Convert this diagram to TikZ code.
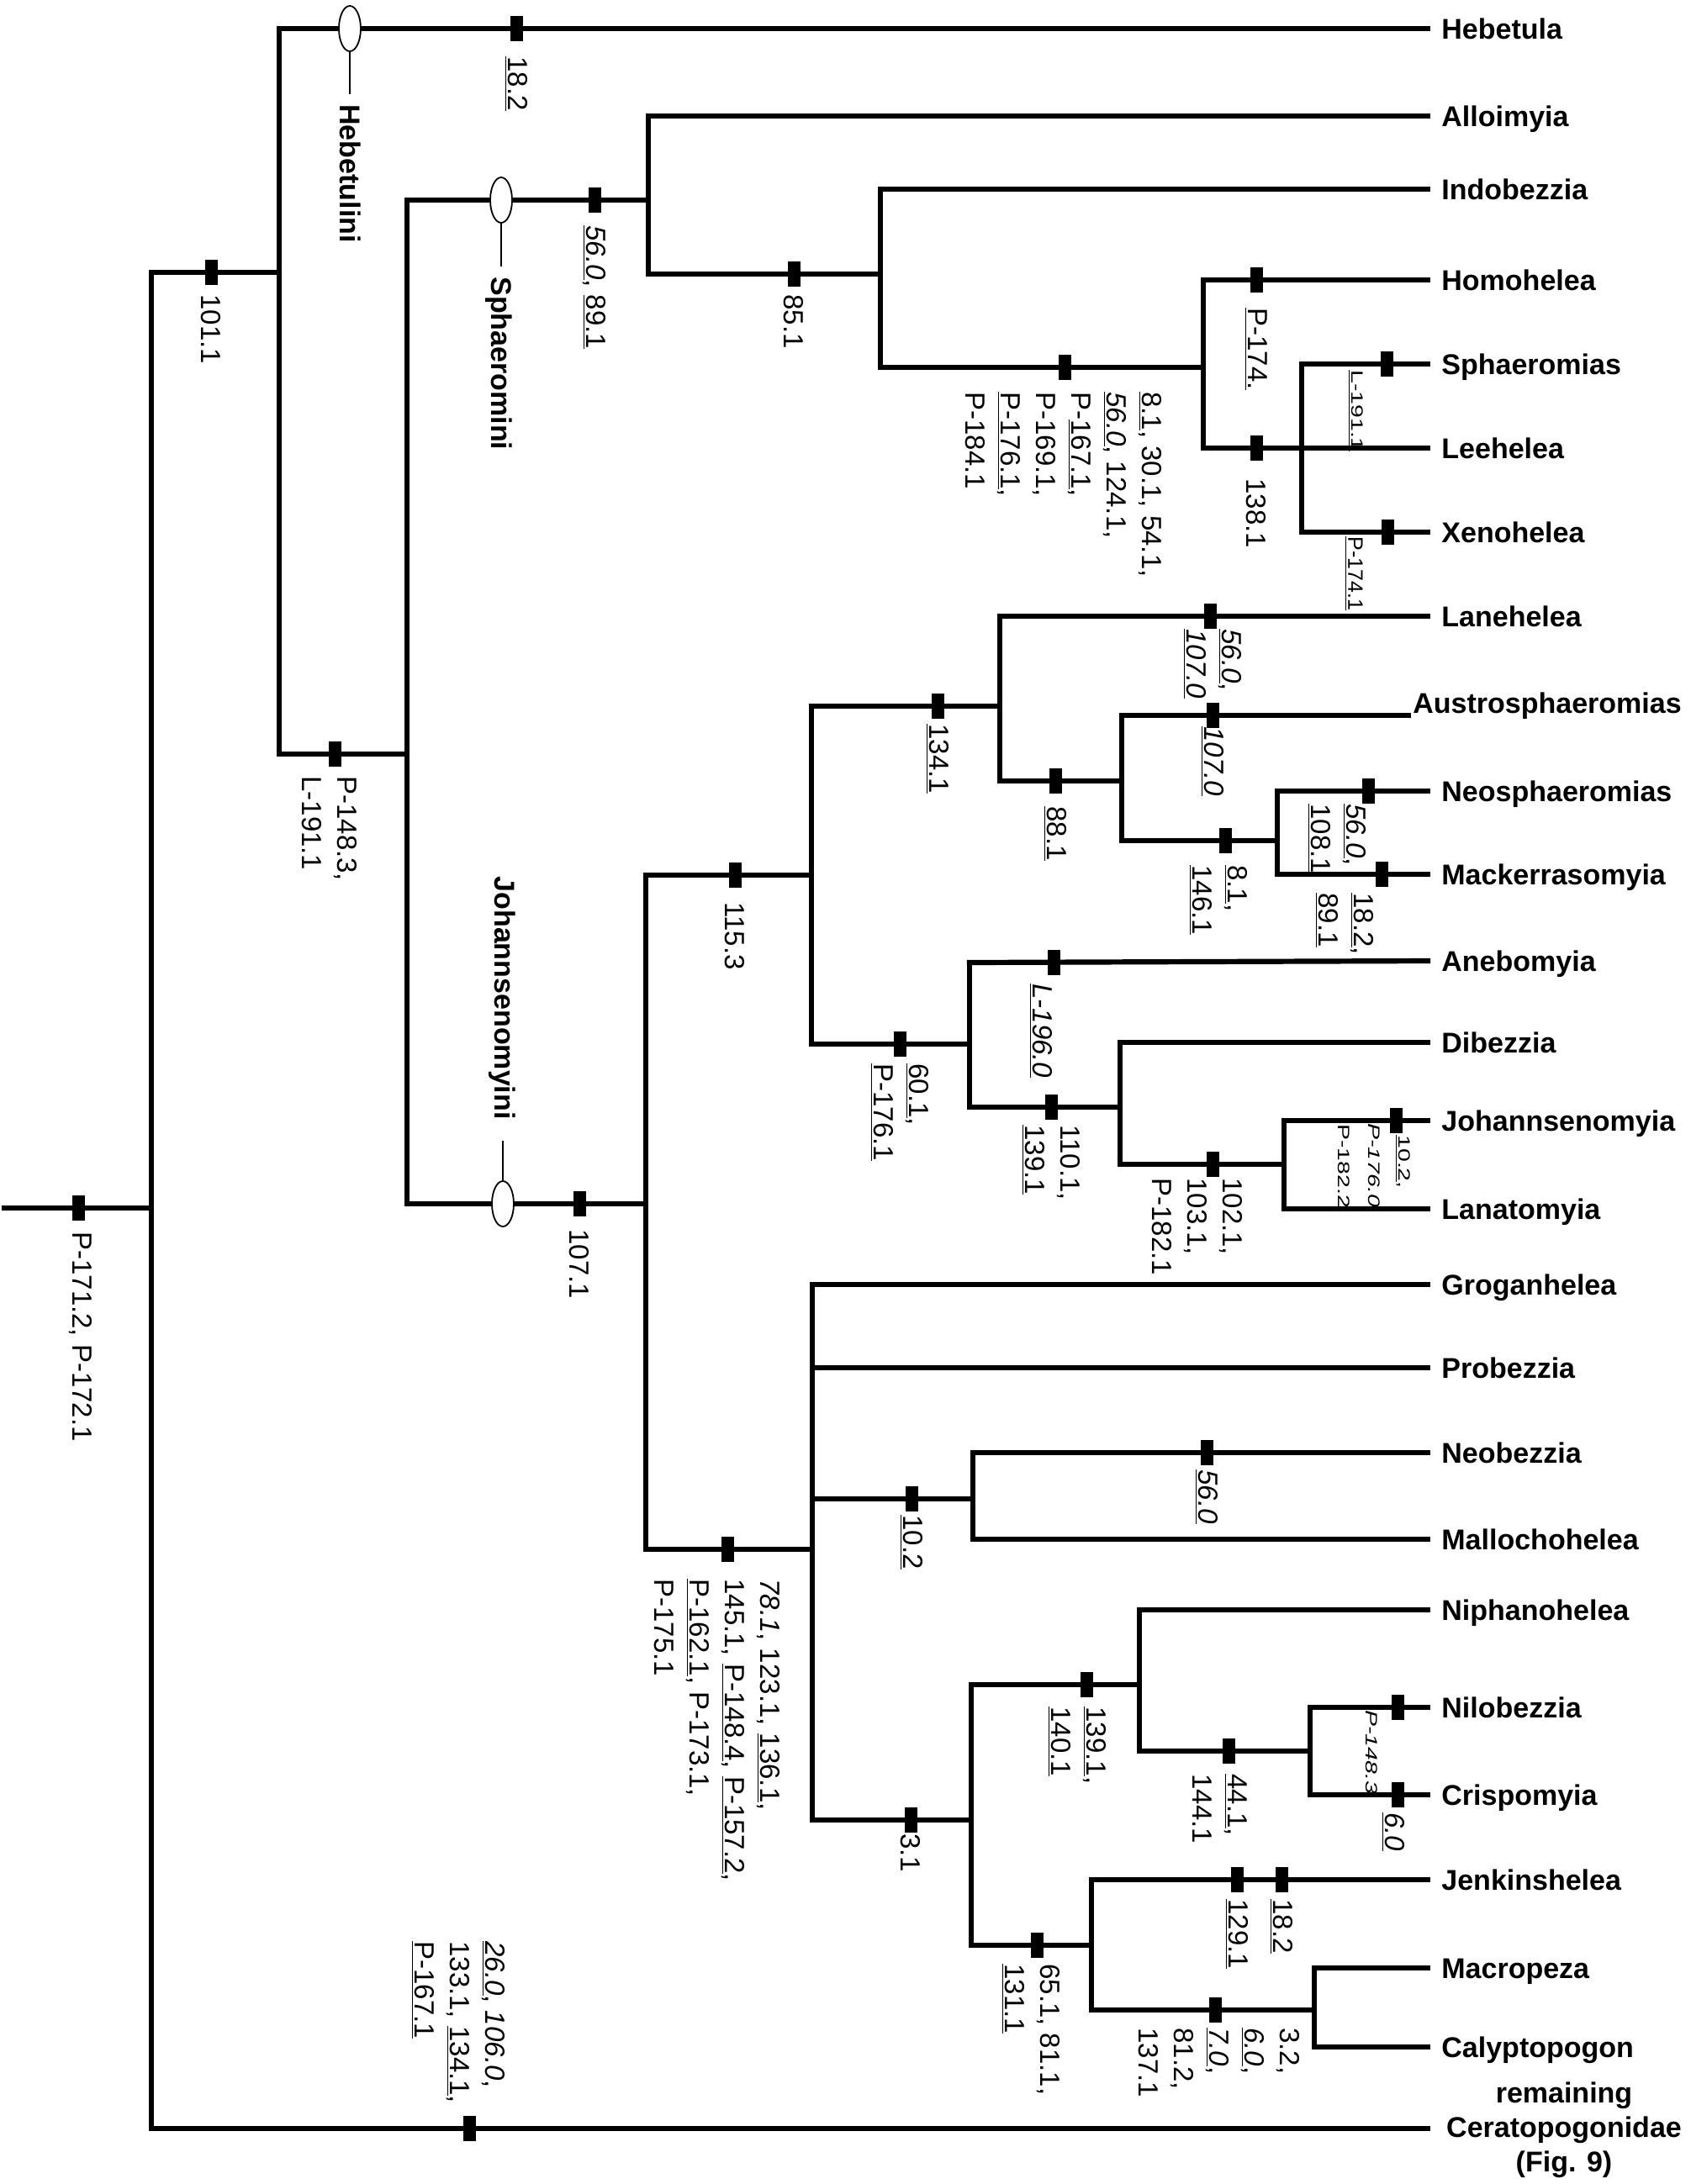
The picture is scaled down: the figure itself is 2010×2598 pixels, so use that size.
\documentclass[tikz,border=0pt]{standalone}
\usepackage{fontspec}
\setmainfont{Liberation Sans}
\usetikzlibrary{shapes.geometric}
\newcommand\uu[1]{\underline{#1}}
\newcommand\stt[1]{\scalebox{1.45}[1]{#1}}
\begin{document}
\begin{tikzpicture}[x=0.5pt,y=-0.5pt,
  br/.style={line width=3.1pt,line cap=rect},
  thin/.style={line width=0.9pt},
  tick/.style={fill=black,minimum width=7.5pt,minimum height=15pt,inner sep=0pt,outer sep=0pt},
  ell/.style={draw,ellipse,fill=white,line width=0.9pt,minimum width=13pt,minimum height=27pt,inner sep=0pt},
  taxon/.style={anchor=west,inner xsep=8pt,inner ysep=0pt,font=\bfseries\fontsize{17}{20}\selectfont,text height=12pt,text depth=0pt},
  clade/.style={rotate=-90,inner sep=0pt,font=\bfseries\fontsize{17}{20}\selectfont,text height=12pt,text depth=0pt},
  lab/.style={rotate=-90,anchor=west,inner sep=0pt,align=left,font=\fontsize{16.5}{21}\selectfont},
  slab/.style={lab,font=\fontsize{9.8}{12}\selectfont}]
\useasboundingbox (0,0) rectangle (2010,2598);
% ---------- coordinates ----------
\coordinate (root) at (5,1437);
\coordinate (v0m) at (180,1437); \coordinate (v0t) at (180,324); \coordinate (v0b) at (180,2532);
\coordinate (v1t) at (332,34); \coordinate (v1m) at (332,324); \coordinate (v1b) at (332,897);
\coordinate (v2t) at (484,238); \coordinate (v2m) at (484,897); \coordinate (v2b) at (484,1432);
\coordinate (v3t) at (771,138); \coordinate (v3m) at (771,238); \coordinate (v3b) at (771,326);
\coordinate (v4t) at (1047,225); \coordinate (v4m) at (1047,326); \coordinate (v4b) at (1047,437);
\coordinate (v5t) at (1431,333); \coordinate (v5m) at (1431,437); \coordinate (v5b) at (1431,533);
\coordinate (v6t) at (1548,433); \coordinate (v6m) at (1548,533); \coordinate (v6b) at (1548,633);
\coordinate (vJt) at (768,1041); \coordinate (vJm) at (768,1432); \coordinate (vJb) at (768,1843);
\coordinate (vKt) at (965,840); \coordinate (vKm) at (965,1041); \coordinate (vKb) at (965,1242);
\coordinate (vLt) at (1189,733); \coordinate (vLm) at (1189,840); \coordinate (vLb) at (1189,929);
\coordinate (vMt) at (1334,851); \coordinate (vMm) at (1334,929); \coordinate (vMb) at (1334,1000);
\coordinate (austroend) at (1675,851);
\coordinate (vNt) at (1519,941); \coordinate (vNm) at (1519,1000); \coordinate (vNb) at (1519,1040);
\coordinate (vOt) at (1153,1145); \coordinate (vOm) at (1153,1242); \coordinate (vOb) at (1153,1317);
\coordinate (vPt) at (1332,1240); \coordinate (vPm) at (1332,1317); \coordinate (vPb) at (1332,1385);
\coordinate (vQt) at (1527,1333); \coordinate (vQm) at (1527,1385); \coordinate (vQb) at (1527,1438);
\coordinate (vRt) at (966,1528); \coordinate (vRp) at (966,1627); \coordinate (vRn) at (966,1783);
\coordinate (vRm) at (966,1843); \coordinate (vRb) at (966,2165);
\coordinate (vSt) at (1157,1728); \coordinate (vSm) at (1157,1783); \coordinate (vSb) at (1157,1831);
\coordinate (vTt) at (1155,2004); \coordinate (vTm) at (1155,2165); \coordinate (vTb) at (1155,2314);
\coordinate (vUt) at (1355,1915); \coordinate (vUm) at (1355,2004); \coordinate (vUb) at (1355,2083);
\coordinate (vVt) at (1558,2031); \coordinate (vVm) at (1558,2083); \coordinate (vVb) at (1558,2135);
\coordinate (vWt) at (1298,2236); \coordinate (vWm) at (1298,2314); \coordinate (vWb) at (1298,2391);
\coordinate (vXt) at (1563,2341); \coordinate (vXm) at (1563,2391); \coordinate (vXb) at (1563,2435);
\coordinate (remend) at (1698,2532);
% ---------- taxa ----------
\node[taxon] (Hebetula) at (1698,34) {Hebetula};
\node[taxon] (Alloimyia) at (1698,138) {Alloimyia};
\node[taxon] (Indobezzia) at (1698,225) {Indobezzia};
\node[taxon] (Homohelea) at (1698,333) {Homohelea};
\node[taxon] (Sphaeromias) at (1698,433) {Sphaeromias};
\node[taxon] (Leehelea) at (1698,533) {Leehelea};
\node[taxon] (Xenohelea) at (1698,633) {Xenohelea};
\node[taxon] (Lanehelea) at (1698,733) {Lanehelea};
\node[taxon,inner xsep=2pt] (Austro) at (1676,836) {Austrosphaeromias};
\node[taxon] (Neosph) at (1698,941) {Neosphaeromias};
\node[taxon] (Macker) at (1698,1040) {Mackerrasomyia};
\node[taxon] (Anebomyia) at (1698,1143) {Anebomyia};
\node[taxon] (Dibezzia) at (1698,1240) {Dibezzia};
\node[taxon] (Johann) at (1698,1333) {Johannsenomyia};
\node[taxon] (Lanato) at (1698,1438) {Lanatomyia};
\node[taxon] (Grogan) at (1698,1528) {Groganhelea};
\node[taxon] (Probezzia) at (1698,1627) {Probezzia};
\node[taxon] (Neobezzia) at (1698,1728) {Neobezzia};
\node[taxon] (Mallocho) at (1698,1831) {Mallochohelea};
\node[taxon] (Niphano) at (1698,1915) {Niphanohelea};
\node[taxon] (Nilobezzia) at (1698,2031) {Nilobezzia};
\node[taxon] (Crispomyia) at (1698,2135) {Crispomyia};
\node[taxon] (Jenkins) at (1698,2236) {Jenkinshelea};
\node[taxon] (Macropeza) at (1698,2341) {Macropeza};
\node[taxon] (Calypto) at (1698,2435) {Calyptopogon};
\node[anchor=center,align=center,inner sep=0pt,font=\bfseries\fontsize{17}{20.5}\selectfont] (Remaining) at (1860,2534) {remaining\\Ceratopogonidae\\(Fig. 9)};
% ---------- branches ----------
\draw[br] (root) -- (v0m);
\draw[br] (v0t) -- (v0b);
\draw[br] (v0b) -- (remend);
\draw[br] (v0t) -- (v1m);
\draw[br] (v1t) -- (v1b);
\draw[br] (v1t) -- (Hebetula.west);
\draw[br] (v1b) -- (v2m);
\draw[br] (v2t) -- (v2b);
\draw[br] (v2t) -- (v3m);
\draw[br] (v3t) -- (v3b);
\draw[br] (v3t) -- (Alloimyia.west);
\draw[br] (v3b) -- (v4m);
\draw[br] (v4t) -- (v4b);
\draw[br] (v4t) -- (Indobezzia.west);
\draw[br] (v4b) -- (v5m);
\draw[br] (v5t) -- (v5b);
\draw[br] (v5t) -- (Homohelea.west);
\draw[br] (v5b) -- (v6m);
\draw[br] (v6t) -- (v6b);
\draw[br] (v6t) -- (Sphaeromias.west);
\draw[br] (v6m) -- (Leehelea.west);
\draw[br] (v6b) -- (Xenohelea.west);
\draw[br] (v2b) -- (vJm);
\draw[br] (vJt) -- (vJb);
\draw[br] (vJt) -- (vKm);
\draw[br] (vKt) -- (vKb);
\draw[br] (vKt) -- (vLm);
\draw[br] (vLt) -- (vLb);
\draw[br] (vLt) -- (Lanehelea.west);
\draw[br] (vLb) -- (vMm);
\draw[br] (vMt) -- (vMb);
\draw[br] (vMt) -- (austroend);
\draw[br] (vMb) -- (vNm);
\draw[br] (vNt) -- (vNb);
\draw[br] (vNt) -- (Neosph.west);
\draw[br] (vNb) -- (Macker.west);
\draw[br] (vKb) -- (vOm);
\draw[br] (vOt) -- (vOb);
\draw[br] (vOt) -- (Anebomyia.west);
\draw[br] (vOb) -- (vPm);
\draw[br] (vPt) -- (vPb);
\draw[br] (vPt) -- (Dibezzia.west);
\draw[br] (vPb) -- (vQm);
\draw[br] (vQt) -- (vQb);
\draw[br] (vQt) -- (Johann.west);
\draw[br] (vQb) -- (Lanato.west);
\draw[br] (vJb) -- (vRm);
\draw[br] (vRt) -- (vRb);
\draw[br] (vRt) -- (Grogan.west);
\draw[br] (vRp) -- (Probezzia.west);
\draw[br] (vRn) -- (vSm);
\draw[br] (vSt) -- (vSb);
\draw[br] (vSt) -- (Neobezzia.west);
\draw[br] (vSb) -- (Mallocho.west);
\draw[br] (vRb) -- (vTm);
\draw[br] (vTt) -- (vTb);
\draw[br] (vTt) -- (vUm);
\draw[br] (vUt) -- (vUb);
\draw[br] (vUt) -- (Niphano.west);
\draw[br] (vUb) -- (vVm);
\draw[br] (vVt) -- (vVb);
\draw[br] (vVt) -- (Nilobezzia.west);
\draw[br] (vVb) -- (Crispomyia.west);
\draw[br] (vTb) -- (vWm);
\draw[br] (vWt) -- (vWb);
\draw[br] (vWt) -- (Jenkins.west);
\draw[br] (vWb) -- (vXm);
\draw[br] (vXt) -- (vXb);
\draw[br] (vXt) -- (Macropeza.west);
\draw[br] (vXb) -- (Calypto.west);
% ---------- clade markers ----------
\node[ell] (e1) at (416,34) {};
\coordinate (e1end) at (416,112);
\draw[thin] (e1.south) -- (e1end);
\node[clade,anchor=west] (Hebetulini) at (416,124) {Hebetulini};
\node[ell] (e2) at (596,238) {};
\coordinate (e2end) at (596,317);
\draw[thin] (e2.south) -- (e2end);
\node[clade,anchor=west] (Sphaeromini) at (596,329) {Sphaeromini};
\node[ell] (e3) at (598,1432) {};
\coordinate (e3end) at (598,1357);
\draw[thin] (e3.north) -- (e3end);
\node[clade,anchor=east] (Johannsenomyini) at (600,1332) {Johannsenomyini};
% ---------- ticks ----------
\node[tick] (t1) at (93,1437) {};
\node[tick] (t2) at (251,324) {};
\node[tick] (t3) at (614,34) {};
\node[tick] (t4) at (707,238) {};
\node[tick] (t5) at (944,326) {};
\node[tick] (t6) at (1266,437) {};
\node[tick] (t7) at (1494,333) {};
\node[tick] (t8) at (1494,533) {};
\node[tick] (t9) at (1649,433) {};
\node[tick] (t10) at (1650,633) {};
\node[tick] (t11) at (398,897) {};
\node[tick] (t12) at (689,1432) {};
\node[tick] (t13) at (874,1041) {};
\node[tick] (t14) at (1115,840) {};
\node[tick] (t15) at (1439,733) {};
\node[tick] (t16) at (1442,851) {};
\node[tick] (t17) at (1255,929) {};
\node[tick] (t18) at (1457,1000) {};
\node[tick] (t19) at (1627,941) {};
\node[tick] (t20) at (1643,1040) {};
\node[tick] (t21) at (1070,1242) {};
\node[tick] (t22) at (1253,1145) {};
\node[tick] (t23) at (1250,1317) {};
\node[tick] (t24) at (1442,1385) {};
\node[tick] (t25) at (1660,1333) {};
\node[tick] (t26) at (865,1843) {};
\node[tick] (t27) at (1084,1783) {};
\node[tick] (t28) at (1435,1728) {};
\node[tick] (t29) at (1083,2165) {};
\node[tick] (t30) at (1292,2004) {};
\node[tick] (t31) at (1461,2083) {};
\node[tick] (t32) at (1662,2031) {};
\node[tick] (t33) at (1662,2135) {};
\node[tick] (t34) at (1233,2314) {};
\node[tick] (t35) at (1471,2236) {};
\node[tick] (t36) at (1524,2236) {};
\node[tick] (t37) at (1445,2391) {};
\node[tick] (t38) at (558,2532) {};
% ---------- character labels ----------
\node[lab] (l1) at (96,1465) {P-171.2, P-172.1};
\node[lab] (l2) at (251,350) {101.1};
\node[lab] (l3) at (614,67) {\uu{18.2}};
\node[lab] (l4) at (707,268) {\uu{\textit{56.0}}, \uu{89.1}};
\node[lab] (l5) at (944,350) {85.1};
\node[lab] (l6) at (1265,466) {\uu{8.1}, 30.1, 54.1,\\ \uu{\textit{56.0}}, 124.1,\\ P-\uu{167.1},\\ P-169.1,\\ \uu{P-176.1},\\ P-184.1};
\node[lab] (l7) at (1494,366) {\uu{P-174.}};
\node[lab] (l8) at (1494,569) {138.1};
\node[slab] (l9) at (1612,440) {\stt{\uu{L-191.1}}};
\node[lab,font=\fontsize{12.5}{14}\selectfont] (l10) at (1610,638) {\uu{P-174.1}};
\node[lab] (l11) at (1442,748) {\uu{\textit{56.0}},\\ \uu{\textit{107.0}}};
\node[lab] (l12) at (1442,864) {\uu{\textit{107.0}}};
\node[lab] (l13) at (1115,861) {\uu{134.1}};
\node[lab] (l14) at (1255,959) {\uu{88.1}};
\node[lab] (l15) at (1449,1029) {\uu{8.1},\\ \uu{146.1}};
\node[lab] (l16) at (1590,956) {\uu{\textit{56.0}},\\ \uu{108.1}};
\node[lab] (l17) at (1599,1062) {\uu{18.2},\\ \uu{89.1}};
\node[lab] (l18) at (874,1073) {115.3};
\node[lab] (l19) at (392,923) {P-148.3,\\ L-191.1};
\node[lab] (l20) at (689,1462) {107.1};
\node[lab] (l21) at (1070,1265) {\uu{60.1},\\ \uu{P-176.1}};
\node[lab] (l22) at (1238,1170) {\uu{\textit{L-196.0}}};
\node[lab] (l23) at (1250,1338) {110.1,\\ \uu{139.1}};
\node[lab] (l24) at (1424,1401) {102.1,\\ 103.1,\\ P-182.1};
\node[slab] (l25) at (1668,1350) {\stt{\uu{10.2},}};
\node[slab] (l26) at (1633,1336) {\stt{\textit{P-176.0},}};
\node[slab] (l27) at (1598,1337) {\stt{P-182.2}};
\node[lab] (l28) at (853,1878) {\textit{78.1}, 123.1, \uu{136.1},\\ 145.1, \uu{P-148.4}, \uu{P-157.2},\\ \uu{P-162.1}, P-173.1,\\ P-175.1};
\node[lab] (l29) at (1084,1802) {\uu{10.2}};
\node[lab] (l30) at (1435,1748) {\uu{\textit{56.0}}};
\node[lab] (l31) at (1083,2181) {3.1};
\node[lab] (l32) at (1281,2030) {\uu{139.1},\\ \uu{140.1}};
\node[lab] (l33) at (1451,2110) {\uu{44.1},\\ 144.1};
\node[slab] (l34) at (1631,2034) {\stt{\textit{P-148.3}}};
\node[lab] (l35) at (1657,2156) {\uu{\textit{6.0}}};
\node[lab] (l36) at (1226,2336) {65.1, 81.1,\\ \uu{131.1}};
\node[lab] (l37) at (1471,2259) {\uu{129.1}};
\node[lab] (l38) at (1524,2259) {\uu{18.2}};
\node[lab] (l39) at (1450,2412) {3.2,\\ \uu{\textit{6.0}},\\ \uu{\textit{7.0}},\\ 81.2,\\ 137.1};
\node[lab] (l40) at (545,2309) {\uu{\textit{26.0}}, \textit{106.0},\\ 133.1, \uu{134.1},\\ \uu{P-167.1}};
\end{tikzpicture}
\end{document}
